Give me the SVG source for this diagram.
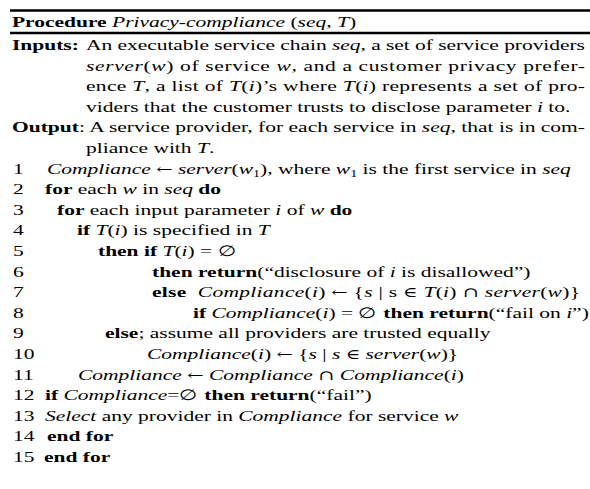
<svg xmlns="http://www.w3.org/2000/svg" width="590" height="489" viewBox="0 0 590 489">
  <style>
    text { font-family: "Liberation Serif", "DejaVu Serif", serif; font-size: 21.5px; fill: #000; white-space: pre; }
    .b { font-weight: bold; }
    .i { font-style: italic; }
    .sub { font-size: 14px; }
    .sym { font-family: "DejaVu Serif", serif; font-size: 19.5px; }
    .rule { stroke: #000; stroke-width: 2.6; }
  </style>
  <rect width="590" height="489" fill="#fff"/>

  <!-- header rules -->
  <g id="rules">
    <line class="rule" x1="10" y1="10.5" x2="590" y2="10.5"/>
    <line class="rule" x1="10" y1="33" x2="590" y2="33"/>
  </g>

  <!-- listing text in a height-condensed frame: y values are page y divided by 0.72 -->
  <g id="listing" transform="scale(1,0.72)">
    <!-- title -->
    <g id="title">
      <text x="12" y="37.3"><tspan class="b">Procedure</tspan> <tspan class="i">Privacy-compliance</tspan> (<tspan class="i">seq</tspan>, <tspan class="i">T</tspan>)</text>
    </g>

    <!-- inputs / output description -->
    <g id="spec">
      <text x="12" y="69.44" class="b">Inputs:</text>
      <text x="86" y="69.44" textLength="499" lengthAdjust="spacing">An executable service chain <tspan class="i">seq</tspan>, a set of service providers</text>
      <text x="86" y="98.06" textLength="499" lengthAdjust="spacing"><tspan class="i">server</tspan>(<tspan class="i">w</tspan>) of service <tspan class="i">w</tspan>, and a customer privacy prefer-</text>
      <text x="86" y="126.67" textLength="499" lengthAdjust="spacing">ence <tspan class="i">T</tspan>, a list of <tspan class="i">T</tspan>(<tspan class="i">i</tspan>)’s where <tspan class="i">T</tspan>(<tspan class="i">i</tspan>) represents a set of pro-</text>
      <text x="86" y="155.28">viders that the customer trusts to disclose parameter <tspan class="i">i</tspan> to.</text>
      <text x="12" y="183.89" textLength="573" lengthAdjust="spacing"><tspan class="b">Output</tspan>: A service provider, for each service in <tspan class="i">seq</tspan>, that is in com-</text>
      <text x="86" y="212.5">pliance with <tspan class="i">T</tspan>.</text>
    </g>

    <!-- line numbers -->
    <g id="numbers">
      <text x="13" y="241.11">1</text>
      <text x="13" y="269.72">2</text>
      <text x="13" y="298.33">3</text>
      <text x="13" y="326.94">4</text>
      <text x="13" y="355.56">5</text>
      <text x="13" y="384.17">6</text>
      <text x="13" y="412.78">7</text>
      <text x="13" y="441.39">8</text>
      <text x="13" y="470">9</text>
      <text x="13" y="498.61">10</text>
      <text x="13" y="527.22">11</text>
      <text x="13" y="555.83">12</text>
      <text x="13" y="584.44">13</text>
      <text x="13" y="613.06">14</text>
      <text x="13" y="641.67">15</text>
    </g>

    <!-- procedure body -->
    <g id="body">
      <text x="47" y="241.11"><tspan class="i">Compliance</tspan> <tspan class="sym">←</tspan> <tspan class="i">server</tspan>(<tspan class="i">w</tspan><tspan class="sub" dy="5">1</tspan><tspan dy="-5">), where </tspan><tspan class="i">w</tspan><tspan class="sub" dy="5">1</tspan><tspan dy="-5"> is the first service in </tspan><tspan class="i">seq</tspan></text>
      <text x="45" y="269.72"><tspan class="b">for</tspan> each <tspan class="i">w</tspan> in <tspan class="i">seq</tspan> <tspan class="b">do</tspan></text>
      <text x="57" y="298.33"><tspan class="b">for</tspan> each input parameter <tspan class="i">i</tspan> of <tspan class="i">w</tspan> <tspan class="b">do</tspan></text>
      <text x="77" y="326.94"><tspan class="b">if</tspan> <tspan class="i">T</tspan>(<tspan class="i">i</tspan>) is specified in <tspan class="i">T</tspan></text>
      <text x="98" y="355.56"><tspan class="b">then if</tspan> <tspan class="i">T</tspan>(<tspan class="i">i</tspan>) = ∅</text>
      <text x="152" y="384.17"><tspan class="b">then return</tspan>(“disclosure of <tspan class="i">i</tspan> is disallowed”)</text>
      <text x="152" y="412.78" textLength="428" lengthAdjust="spacing"><tspan class="b">else</tspan>  <tspan class="i">Compliance</tspan>(<tspan class="i">i</tspan>) <tspan class="sym">←</tspan> {<tspan class="i">s</tspan> | s <tspan class="sym">∈</tspan> <tspan class="i">T</tspan>(<tspan class="i">i</tspan>) <tspan class="sym">∩</tspan> <tspan class="i">server</tspan>(<tspan class="i">w</tspan>)}</text>
      <text x="193" y="441.39"><tspan class="b">if</tspan> <tspan class="i">Compliance</tspan>(<tspan class="i">i</tspan>) = ∅ <tspan class="b">then return</tspan>(“fail on <tspan class="i">i</tspan>”)</text>
      <text x="105" y="470"><tspan class="b">else</tspan>; assume all providers are trusted equally</text>
      <text x="147" y="498.61"><tspan class="i">Compliance</tspan>(<tspan class="i">i</tspan>) <tspan class="sym">←</tspan> {<tspan class="i">s</tspan> | <tspan class="i">s</tspan> <tspan class="sym">∈</tspan> <tspan class="i">server</tspan>(<tspan class="i">w</tspan>)}</text>
      <text x="78" y="527.22"><tspan class="i">Compliance</tspan> <tspan class="sym">←</tspan> <tspan class="i">Compliance</tspan> <tspan class="sym">∩</tspan> <tspan class="i">Compliance</tspan>(<tspan class="i">i</tspan>)</text>
      <text x="45" y="555.83"><tspan class="b">if</tspan> <tspan class="i">Compliance</tspan>=∅ <tspan class="b">then return</tspan>(“fail”)</text>
      <text x="45" y="584.44"><tspan class="i">Select</tspan> any provider in <tspan class="i">Compliance</tspan> for service <tspan class="i">w</tspan></text>
      <text x="47" y="613.06" class="b">end for</text>
      <text x="44" y="641.67" class="b">end for</text>
    </g>
  </g>
</svg>
